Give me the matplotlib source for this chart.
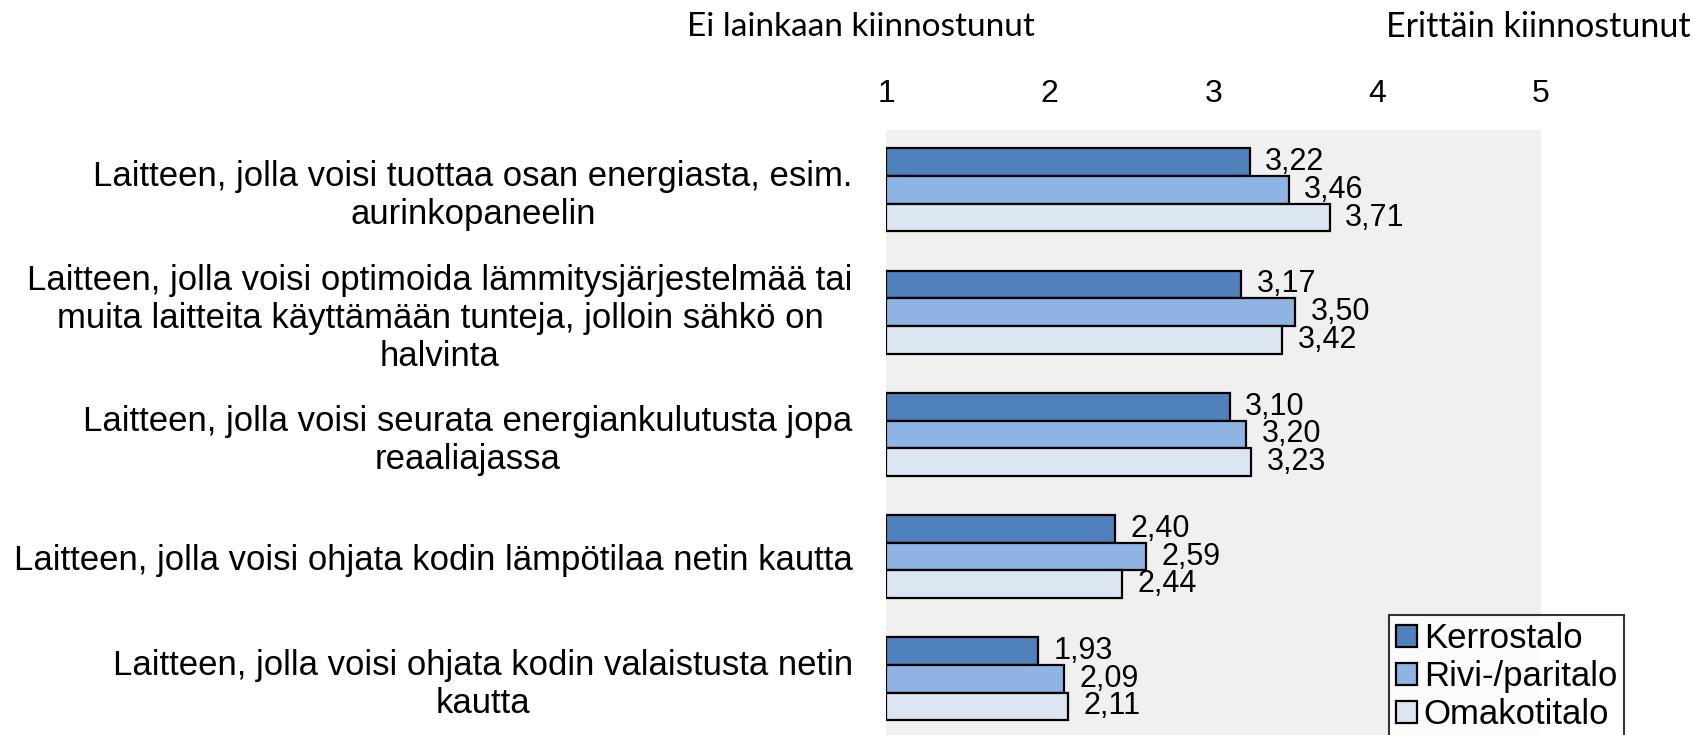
import matplotlib
matplotlib.use("Agg")
import matplotlib.pyplot as plt
import numpy as np

# data
categories = [
    "Laitteen, jolla voisi tuottaa osan energiasta, esim.\naurinkopaneelin",
    "Laitteen, jolla voisi optimoida lämmitysjärjestelmää tai\nmuita laitteita käyttämään tunteja, jolloin sähkö on\nhalvinta",
    "Laitteen, jolla voisi seurata energiankulutusta jopa\nreaaliajassa",
    "Laitteen, jolla voisi ohjata kodin lämpötilaa netin kautta",
    "Laitteen, jolla voisi ohjata kodin valaistusta netin\nkautta",
]
series = ["Kerrostalo", "Rivi-/paritalo", "Omakotitalo"]
kerrostalo = [3.22, 3.17, 3.10, 2.40, 1.93]
rivitalo = [3.46, 3.50, 3.20, 2.59, 2.09]
omakotitalo = [3.71, 3.42, 3.23, 2.44, 2.11]
ticks = [1, 2, 3, 4, 5]

colors = ["#4F81BD", "#8EB4E3", "#DCE6F2"]
font = "Liberation Sans"

fig = plt.figure(figsize=(16.94, 7.35), dpi=100)
ax = fig.add_axes([886 / 1694, 0, (1541 - 886) / 1694, 1 - 130 / 735])
ax.set_facecolor("#F0F0F0")

y = np.arange(len(categories))
h = 0.226
for i, (vals, name, c) in enumerate(zip([kerrostalo, rivitalo, omakotitalo], series, colors)):
    vals = np.array(vals)
    pos = y + (i - 1) * h
    ax.barh(pos, vals - 1, left=1, height=h, color=c, edgecolor="black",
            linewidth=1.6, label=name)
    for p, v in zip(pos, vals):
        ax.annotate(f"{v:.2f}".replace(".", ","), (v, p), xytext=(11, 0),
                    textcoords="offset points", va="center", ha="left",
                    fontsize=22, family=font)

ax.set_xlim(1, 5)
ax.set_ylim(4.46, -0.49)
ax.xaxis.tick_top()
ax.set_xticks(ticks)
ax.set_xticklabels([str(t) for t in ticks], fontsize=23, family=font)
ax.tick_params(axis="x", length=0, pad=15)
ax.set_yticks(y)
ax.set_yticklabels(categories, fontsize=25, family=font, multialignment="center",
                   linespacing=1.19)
ax.tick_params(axis="y", length=0, pad=24)
for s in ax.spines.values():
    s.set_visible(False)

fig.text(861 / 1694, 1 - 27 / 735, "Ei lainkaan kiinnostunut", ha="center", va="center",
         fontsize=24, family="Lato")
fig.text(1538 / 1694, 1 - 27 / 735, "Erittäin kiinnostunut", ha="center", va="center",
         fontsize=24.5, family="Lato")

leg = fig.legend(loc="upper left", bbox_to_anchor=(1389 / 1694, 1 - 615 / 735),
                 prop={"family": font, "size": 25}, frameon=True,
                 fancybox=False, edgecolor="black", handlelength=0.6, handleheight=0.6,
                 handletextpad=0.2, borderpad=0.2, labelspacing=0.15, borderaxespad=0)
leg.get_frame().set_linewidth(1.5)

fig.savefig("out.png", dpi=100)
